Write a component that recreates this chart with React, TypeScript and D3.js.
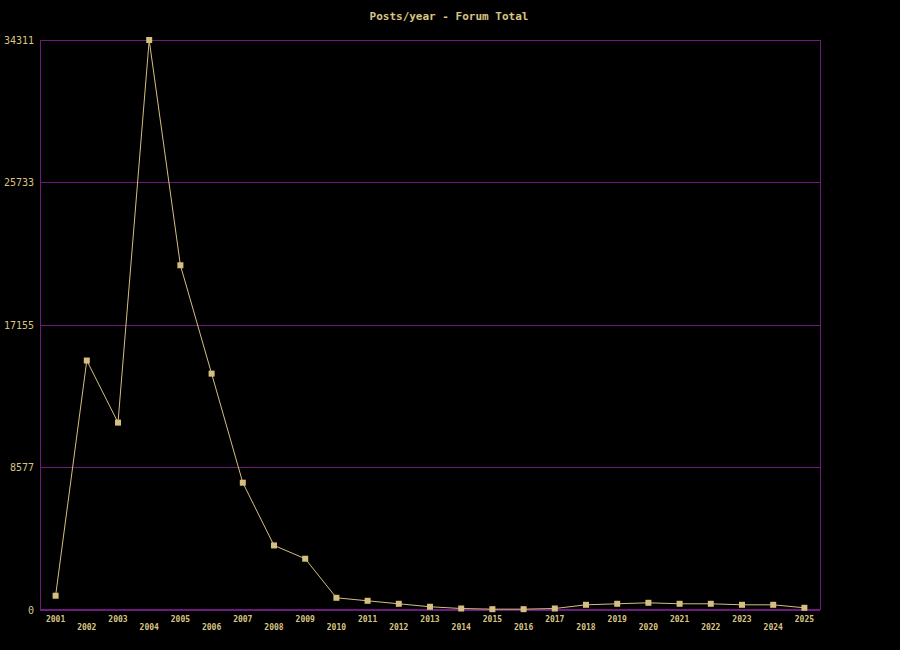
import React from "react";
import * as d3 from "d3";

const years = [
  "2001", "2002", "2003", "2004", "2005", "2006", "2007", "2008", "2009", "2010",
  "2011", "2012", "2013", "2014", "2015", "2016", "2017", "2018", "2019", "2020",
  "2021", "2022", "2023", "2024", "2025",
];
const posts = [
  830, 15000, 11260, 34311, 20740, 14210, 7640, 3860, 3060, 705,
  524, 344, 165, 60, 20, 20, 60, 283, 344, 404,
  344, 344, 283, 283, 103,
];
const yTicks = [0, 8577, 17155, 25733, 34311];
const title = "Posts/year - Forum Total";

const W = 900;
const H = 650;
const M = { left: 40, right: 820, top: 40, bottom: 609.5 };
const FG = "#d8c483";
const MARK = "#d4bf80";
const PURPLE = "#6e1a7e";
const FONT = "'DejaVu Sans Mono', monospace";

export default function App() {
  const x = d3.scaleBand<string>().domain(years).range([M.left, M.right]);
  const y = d3.scaleLinear().domain([0, 34311]).range([M.bottom, M.top]);
  const cx = (d: string) => (x(d) as number) + x.bandwidth() / 2;
  const line = d3
    .line<number>()
    .x((_, i) => cx(years[i]))
    .y((v) => y(v));

  return (
    <svg
      width={W}
      height={H}
      style={{ position: "absolute", left: 0, top: 0, background: "#000" }}
    >
      <rect x={0} y={0} width={W} height={H} fill="#000" />
      <text
        x={449}
        y={20}
        fill={FG}
        fontFamily={FONT}
        fontSize={11}
        fontWeight="bold"
        textAnchor="middle"
      >
        {title}
      </text>
      {yTicks.map((t) => (
        <g key={t}>
          <line
            x1={M.left}
            x2={M.right}
            y1={Math.round(y(t)) + 0.5}
            y2={Math.round(y(t)) + 0.5}
            stroke={PURPLE}
            strokeWidth={1}
          />
          <text
            x={34}
            y={Math.round(y(t)) + 4}
            fill={FG}
            fontFamily={FONT}
            fontSize={10}
            textAnchor="end"
          >
            {t}
          </text>
        </g>
      ))}
      <rect
        x={M.left + 0.5}
        y={M.top + 0.5}
        width={M.right - M.left}
        height={M.bottom - M.top - 0.5}
        fill="none"
        stroke={PURPLE}
        strokeWidth={1}
      />
      {years.map((yr, i) => (
        <text
          key={yr}
          x={cx(yr)}
          y={i % 2 === 0 ? 622 : 630}
          fill={FG}
          fontFamily={FONT}
          fontSize={8}
          fontWeight="bold"
          textAnchor="middle"
        >
          {yr}
        </text>
      ))}
      <path d={line(posts) || ""} fill="none" stroke={MARK} strokeWidth={1} />
      {posts.map((v, i) => (
        <rect
          key={i}
          x={cx(years[i]) - 3}
          y={y(v) - 3}
          width={6}
          height={6}
          fill={MARK}
        />
      ))}
    </svg>
  );
}
